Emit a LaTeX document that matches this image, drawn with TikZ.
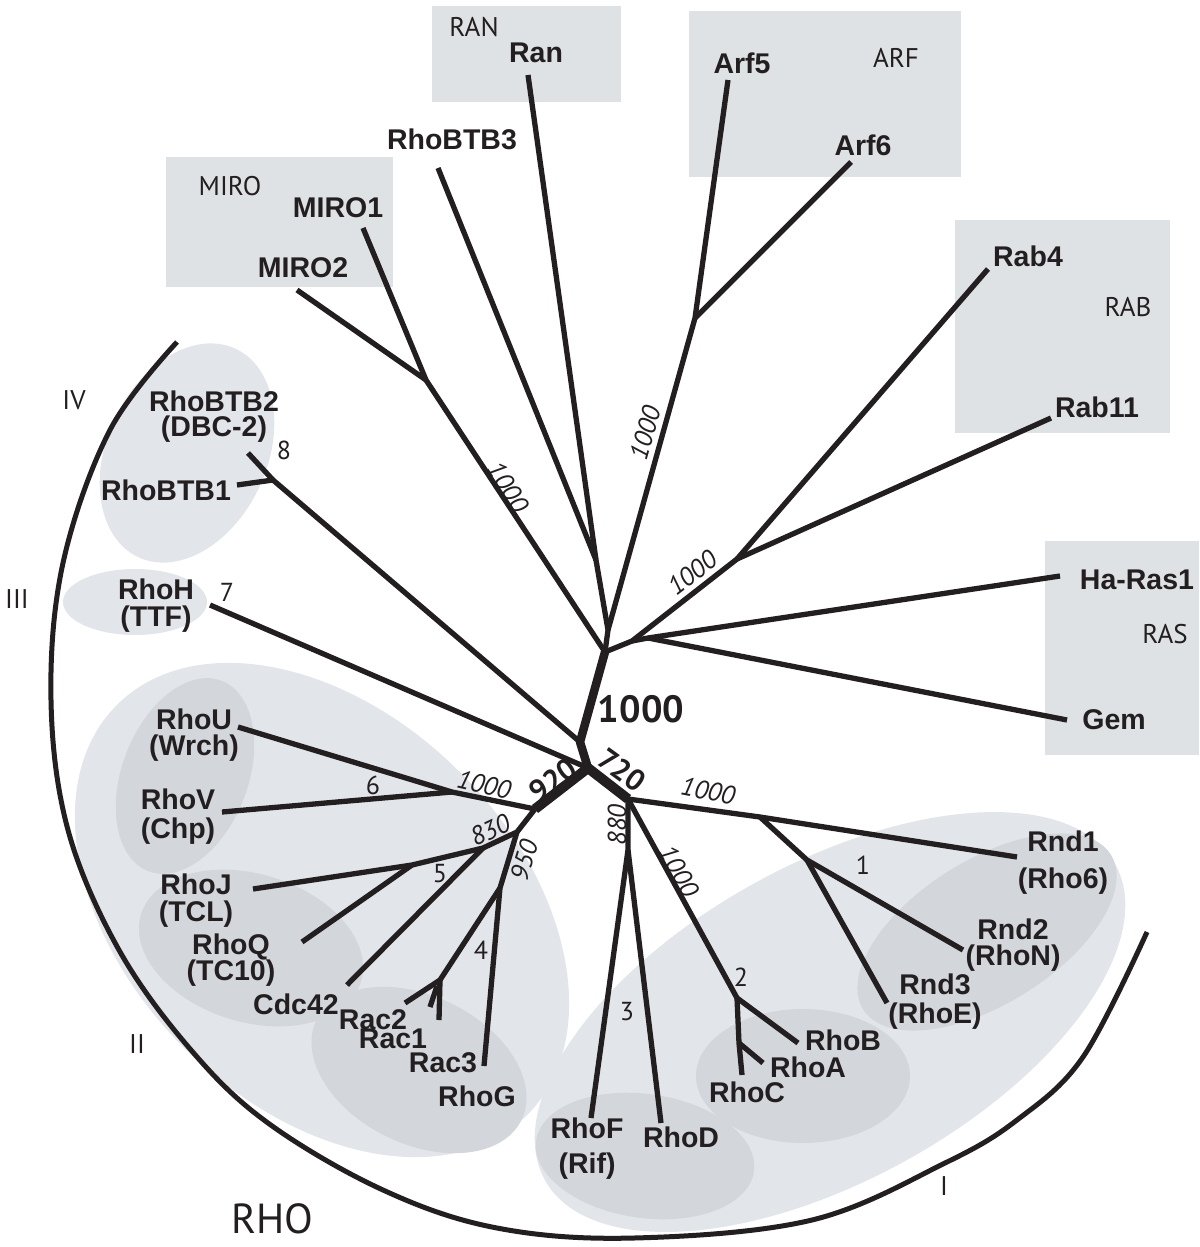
\documentclass[tikz,border=0pt]{standalone}
\usepackage{fontspec}
\setmainfont{Liberation Sans}
\newfontfamily\myriad{PT Sans}
\definecolor{ink}{RGB}{35,31,32}
\definecolor{boxgray}{RGB}{223,226,229}
\definecolor{lgray}{RGB}{226,229,234}
\definecolor{dgray}{RGB}{211,214,219}
\tikzset{
  br/.style={draw=ink,line width=5.3pt,line join=round},
  thk/.style={draw=ink,line width=10pt,line join=round},
  lbl/.style={font=\bfseries\fontsize{28.5}{28}\selectfont,text=ink,inner sep=0pt,align=center},
  grp/.style={font=\myriad\fontsize{27}{27}\selectfont,text=ink,inner sep=0pt},
  bs/.style={font=\myriad\itshape\fontsize{26}{26}\selectfont,text=ink,inner sep=0pt},
  bsb/.style={font=\myriad\bfseries\fontsize{30}{30}\selectfont,text=ink,inner sep=0pt},
  cl/.style={font=\myriad\fontsize{26}{26}\selectfont,text=ink,inner sep=0pt},
}
\begin{document}
\begin{tikzpicture}[x=1pt,y=-1pt]
\useasboundingbox (0,0) rectangle (1199,1247);
% group boxes
\fill[boxgray] (432,6) rectangle (621,102);
\fill[boxgray] (689,11) rectangle (961,177);
\fill[boxgray] (166,157) rectangle (393,287);
\fill[boxgray] (955,220) rectangle (1170,433);
\fill[boxgray] (1045,541) rectangle (1199,755);
% clade ellipses
\fill[lgray,rotate around={65:(187,453)}] (187,453) ellipse [x radius=115,y radius=80];
\fill[lgray] (135,602) ellipse [x radius=72,y radius=33];
\fill[lgray,rotate around={-45:(322,910)}] (322,910) ellipse [x radius=290,y radius=195];
\fill[dgray,rotate around={-21:(185,776)}] (185,776) ellipse [x radius=63,y radius=102];
\fill[dgray,rotate around={-17:(251,948)}] (251,948) ellipse [x radius=115,y radius=74];
\fill[dgray,rotate around={-26:(419,1070)}] (419,1070) ellipse [x radius=114,y radius=74];
\fill[lgray,rotate around={29:(830,1022)}] (830,1022) ellipse [x radius=326,y radius=158];
\fill[dgray,rotate around={-8:(645,1156)}] (645,1156) ellipse [x radius=110,y radius=62];
\fill[dgray] (803,1076) ellipse [x radius=107,y radius=67];
\fill[dgray,rotate around={32:(987,932)}] (987,932) ellipse [x radius=146,y radius=72];
% RHO arc
\draw[ink,line width=5pt] plot[smooth,tension=0.6] coordinates {(177,342) (110,430) (63,563) (51,700) (68,830) (119,950) (191,1050) (268,1123) (383,1190) (497,1228) (634,1238) (812,1220) (945,1163) (1017,1120) (1083,1057) (1147,932)};

% junctions
\coordinate (C) at (588,768);
\coordinate (Tb) at (580,742);
\coordinate (T) at (605,652);
\coordinate (U) at (608,630);
\coordinate (jRR) at (596,560);
\coordinate (jArf) at (695,318);
\coordinate (jMiro) at (426,380);
\coordinate (jRas) at (632,641);
\coordinate (jRas2) at (648,638);
\coordinate (jRab) at (737,559);
\coordinate (jBTB) at (273,480);
\coordinate (jUV) at (452,792);
\coordinate (n920) at (535,809);
\coordinate (n950) at (517,832);
\coordinate (j830) at (483,848);
\coordinate (j5) at (412,865);
\coordinate (j4) at (500,888);
\coordinate (jRac) at (440,980);
\coordinate (jRacb) at (437,986);
\coordinate (n720) at (628,799);
\coordinate (j880) at (628,850);
\coordinate (jABC) at (737,998);
\coordinate (jAC) at (739,1043);
\coordinate (jRnd) at (760,817);
\coordinate (jRnd23) at (807,860);
% leaf ends
\coordinate (ran) at (528,75);
\coordinate (btb3) at (438,168);
\coordinate (arf5) at (728,80);
\coordinate (arf6) at (851,162);
\coordinate (miro1) at (363,228);
\coordinate (miro2) at (297,290);
\coordinate (rab4) at (988,269);
\coordinate (rab11) at (1051,418);
\coordinate (hras) at (1060,576);
\coordinate (gem) at (1067,720);
\coordinate (btb2) at (248,453);
\coordinate (btb1) at (237,485);
\coordinate (rhoh) at (210,605);
\coordinate (rhou) at (238,727);
\coordinate (rhov) at (222,812);
\coordinate (rhoj) at (253,889);
\coordinate (rhoq) at (302,942);
\coordinate (cdc42) at (347,985);
\coordinate (rac2) at (405,1003);
\coordinate (rac1) at (439,1020);
\coordinate (rac1b) at (430,1007);
\coordinate (rac3) at (484,1066);
\coordinate (rhof) at (591,1118);
\coordinate (rhod) at (661,1123);
\coordinate (rhob) at (798,1043);
\coordinate (rhoc) at (742,1075);
\coordinate (rhoa) at (763,1063);
\coordinate (rnd1) at (1017,857);
\coordinate (rnd2) at (963,950);
\coordinate (rnd3) at (887,1003);

% branches
\draw[br] (ran) -- (jRR) -- (U) -- (T);
\draw[br] (btb3) -- (jRR);
\draw[br] (arf5) -- (jArf) -- (U);
\draw[br] (arf6) -- (jArf);
\draw[br] (miro1) -- (jMiro) -- (T);
\draw[br] (miro2) -- (jMiro);
\draw[br] (rab4) -- (jRab) -- (jRas) -- (T);
\draw[br] (rab11) -- (jRab);
\draw[br] (hras) -- (jRas2) -- (jRas);
\draw[br] (gem) -- (jRas2);
\draw[br] (btb2) -- (jBTB) -- (Tb);
\draw[br] (btb1) -- (jBTB);
\draw[br] (rhoh) -- (C);
\draw[br] (rhou) -- (jUV) -- (n920);
\draw[br] (rhov) -- (jUV);
\draw[br] (rhoj) -- (j5) -- (j830) -- (n950) -- (n920);
\draw[br] (rhoq) -- (j5);
\draw[br] (cdc42) -- (j830);
\draw[br] (rac3) -- (j4) -- (n950);
\draw[br] (rac2) -- (jRac) -- (j4);
\draw[br] (rac1) -- (jRac);
\draw[br] (rac1b) -- (jRacb);
\draw[br] (rnd1) -- (jRnd) -- (n720);
\draw[br] (rnd2) -- (jRnd23) -- (jRnd);
\draw[br] (rnd3) -- (jRnd23);
\draw[br] (rhob) -- (jABC) -- (n720);
\draw[br] (rhoc) -- (jAC) -- (jABC);
\draw[br] (rhoa) -- (jAC);
\draw[br] (rhof) -- (j880) -- (n720);
\draw[br] (rhod) -- (j880);
\draw[thk,line width=8.5pt] (T) -- (Tb) -- (C);
\draw[thk] (n920) -- (C) -- (n720);

% gene labels
\node[lbl] (Ran) at (536,53) {Ran};
\node[lbl] (Arf5) at (742,63) {Arf5};
\node[lbl] (Arf6) at (863,145) {Arf6};
\node[lbl] (RhoBTB3) at (452,139) {RhoBTB3};
\node[lbl] (MIRO1) at (338,208) {MIRO1};
\node[lbl] (MIRO2) at (303,268) {MIRO2};
\node[lbl] (Rab4) at (1028,256) {Rab4};
\node[lbl] (Rab11) at (1097,407) {Rab11};
\node[lbl] (HaRas1) at (1137,580) {Ha-Ras1};
\node[lbl] (Gem) at (1114,720) {Gem};
\node[lbl] (RhoBTB2) at (214,417) {RhoBTB2\\[-3pt](DBC-2)};
\node[lbl] (RhoBTB1) at (166,490) {RhoBTB1};
\node[lbl] (RhoH) at (156,606) {RhoH\\[-1pt](TTF)};
\node[lbl] (RhoU) at (194,735) {RhoU\\[-2pt](Wrch)};
\node[lbl] (RhoV) at (178,817) {RhoV\\[1pt](Chp)};
\node[lbl] (RhoJ) at (196,901) {RhoJ\\[-1pt](TCL)};
\node[lbl] (RhoQ) at (231,960) {RhoQ\\[-2pt](TC10)};
\node[lbl] (Cdc42) at (296,1004) {Cdc42};
\node[lbl] (Rac2) at (373,1020) {Rac2};
\node[lbl] (Rac1) at (393,1039) {Rac1};
\node[lbl] (Rac3) at (443,1063) {Rac3};
\node[lbl] (RhoG) at (477,1096) {RhoG};
\node[lbl] (RhoF) at (587,1149) {RhoF\\[7pt](Rif)};
\node[lbl] (RhoD) at (681,1137) {RhoD};
\node[lbl] (RhoC) at (747,1092) {RhoC};
\node[lbl] (RhoA) at (808,1067) {RhoA};
\node[lbl] (RhoB) at (843,1040) {RhoB};
\node[lbl] (Rnd1) at (1063,863) {Rnd1\\[9pt](Rho6)};
\node[lbl] (Rnd2) at (1013,945) {Rnd2\\[-2pt](RhoN)};
\node[lbl] (Rnd3) at (935,1002) {Rnd3\\[1pt](RhoE)};

% family names
\node[grp] (RAN) at (474,27) {RAN};
\node[grp] (ARF) at (896,58) {ARF};
\node[grp] (MIRO) at (230,186) {MIRO};
\node[grp] (RAB) at (1128,307) {RAB};
\node[grp] (RAS) at (1165,634) {RAS};
\node[grp] (IV) at (74,400) {IV};
\node[grp] (III) at (17,599) {III};
\node[grp] (II) at (137,1044) {II};
\node[grp] (I) at (944,1186) {I};
\node[grp,font=\myriad\fontsize{42}{42}\selectfont] (RHO) at (272,1219) {RHO};

% bootstrap values
\node[bsb,font=\myriad\bfseries\fontsize{38}{38}\selectfont] (b1000) at (641,709) {1000};
\node[bsb,rotate=35] (b920) at (553,780) {920};
\node[bsb,rotate=-36] (b720) at (622,770) {720};
\node[bs,rotate=-13] (bUV) at (484,785) {1000};
\node[bs,rotate=-11] (bRnd) at (708,791) {1000};
\node[bs,rotate=25] (b830) at (490,830) {830};
\node[bs,rotate=73] (b950) at (524,860) {950};
\node[bs,rotate=90] (b880) at (617,825) {880};
\node[bs,rotate=-61] (bABC) at (679,871) {1000};
\node[bs,rotate=-58] (bMiro) at (508,487) {1000};
\node[bs,rotate=74] (bArf) at (645,433) {1000};
\node[bs,rotate=38] (bRab) at (692,573) {1000};

% subgroup numbers
\node[cl] (n8) at (284,450) {8};
\node[cl] (n7) at (227,592) {7};
\node[cl] (n6) at (373,785) {6};
\node[cl] (n5) at (440,874) {5};
\node[cl] (n4) at (481,950) {4};
\node[cl] (n3) at (627,1012) {3};
\node[cl] (n2) at (741,977) {2};
\node[cl] (n1) at (863,865) {1};
\end{tikzpicture}
\end{document}
